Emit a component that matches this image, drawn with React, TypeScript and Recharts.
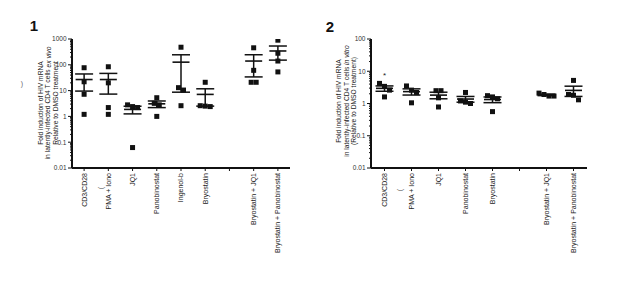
import React from "react";
import {
  ScatterChart,
  Scatter,
  XAxis,
  YAxis,
  ErrorBar,
} from "recharts";

// panel 1: ex vivo
const categoriesExVivo = [
  "CD3/CD28",
  "PMA + Iono",
  "JQ1",
  "Panobinostat",
  "Ingenol-b",
  "Bryostatin",
  "",
  "Bryostatin + JQ1",
  "Bryostatin + Panobinostat",
];
const cd3ExVivo = [77, 22, 7.2, 1.2];
const pmaExVivo = [84, 20, 2.2, 1.2];
const jq1ExVivo = [2.4, 2.2, 2.8, 0.062];
const panoExVivo = [5.3, 3.2, 2.8, 1.0];
const ingenolExVivo = [480, 13, 10.5, 2.6];
const bryoExVivo = [21, 2.4, 2.5, 2.6];
const blankExVivo: number[] = [];
const bryoJq1ExVivo = [456, 61, 21, 21];
const bryoPanoExVivo = [900, 280, 140, 53];
const ticksExVivo = [0.01, 0.1, 1, 10, 100, 1000];

// panel 2: in vitro
const categoriesInVitro = [
  "CD3/CD28",
  "PMA + Iono",
  "JQ1",
  "Panobinostat",
  "Bryostatin",
  "",
  "Bryostatin + JQ1",
  "Bryostatin + Panobinostat",
];
const cd3InVitro = [4.2, 3.4, 2.6, 1.6];
const pmaInVitro = [3.5, 2.6, 2.2, 1.05];
const jq1InVitro = [2.5, 2.5, 1.5, 0.78];
const panoInVitro = [2.2, 1.2, 1.1, 1.0];
const bryoInVitro = [1.75, 1.6, 1.4, 0.56];
const blankInVitro: number[] = [];
const bryoJq1InVitro = [2.1, 1.9, 1.7, 1.7];
const bryoPanoInVitro = [5.2, 1.9, 1.8, 1.3];
const ticksInVitro = [0.01, 0.1, 1, 10, 100];
const starInVitro = [{ category: 0, value: 8 }];

const groupsExVivo = [
  cd3ExVivo,
  pmaExVivo,
  jq1ExVivo,
  panoExVivo,
  ingenolExVivo,
  bryoExVivo,
  blankExVivo,
  bryoJq1ExVivo,
  bryoPanoExVivo,
];
const groupsInVitro = [
  cd3InVitro,
  pmaInVitro,
  jq1InVitro,
  panoInVitro,
  bryoInVitro,
  blankInVitro,
  bryoJq1InVitro,
  bryoPanoInVitro,
];

const FONT = "'Liberation Sans', Arial, sans-serif";
const MARKER = 5;

// spread points that would overlap, like a scatter dot plot does
const buildPoints = (groups: number[][], pxPerDecade: number) => {
  const out: { x: number; y: number; dx: number }[] = [];
  groups.forEach((vals, gi) => {
    const order = vals.map((v, i) => ({ v, i })).sort((a, b) => b.v - a.v);
    const clusters: { v: number; i: number }[][] = [];
    order.forEach((p) => {
      const last = clusters[clusters.length - 1];
      if (
        last &&
        (Math.log10(last[last.length - 1].v) - Math.log10(p.v)) * pxPerDecade <
          MARKER + 0.5
      ) {
        last.push(p);
      } else {
        clusters.push([p]);
      }
    });
    clusters.forEach((c) => {
      c.forEach((p, k) => {
        out.push({ x: gi, y: p.v, dx: (k - (c.length - 1) / 2) * MARKER });
      });
    });
  });
  return out;
};

const buildMeans = (groups: number[][]) =>
  groups
    .map((vals, gi) => {
      if (!vals.length) return null;
      const n = vals.length;
      const mean = vals.reduce((a, b) => a + b, 0) / n;
      const sd = Math.sqrt(
        vals.reduce((a, b) => a + (b - mean) * (b - mean), 0) / (n - 1)
      );
      return { x: gi, y: mean, err: sd / Math.sqrt(n) };
    })
    .filter(Boolean);

const logTicks = (min: number, max: number) => {
  const t: number[] = [];
  for (let d = Math.round(Math.log10(min)); d < Math.round(Math.log10(max)); d++) {
    for (let k = 1; k <= 9; k++) t.push(Number((k * Math.pow(10, d)).toPrecision(3)));
  }
  t.push(max);
  return t;
};

const isMajor = (v: number) =>
  Math.abs(Math.log10(v) - Math.round(Math.log10(v))) < 1e-6;

const YTick = (props: any) => {
  const { x, y, payload } = props;
  const major = isMajor(payload.value);
  const len = major ? 4 : 2;
  return (
    <g>
      <line x1={x - len} x2={x} y1={y} y2={y} stroke="#111" strokeWidth={1} />
      {major && (
        <text
          x={x - len - 1.5}
          y={y}
          dy={2.3}
          textAnchor="end"
          fontSize={6.5}
          fontFamily={FONT}
          fill="#333"
        >
          {String(payload.value)}
        </text>
      )}
    </g>
  );
};

const makeXTick = (cats: string[]) => (props: any) => {
  const { x, y, payload } = props;
  return (
    <text
      x={x}
      y={y}
      transform={`rotate(-90 ${x} ${y})`}
      textAnchor="end"
      dy={2.4}
      fontSize={7}
      fontFamily={FONT}
      fill="#222"
    >
      {cats[payload.value]}
    </text>
  );
};

const Square = (props: any) => {
  const { cx, cy, payload } = props;
  if (cx == null || cy == null) return null;
  return (
    <rect
      x={cx + payload.dx - MARKER / 2}
      y={cy - MARKER / 2}
      width={MARKER}
      height={MARKER}
      fill="#111"
    />
  );
};

const MeanLine = (props: any) => {
  const { cx, cy } = props;
  if (cx == null || cy == null) return null;
  return <line x1={cx - 8.5} x2={cx + 8.5} y1={cy} y2={cy} stroke="#111" strokeWidth={1.6} />;
};

const Star = (props: any) => {
  const { cx, cy } = props;
  if (cx == null || cy == null) return null;
  return (
    <text x={cx} y={cy} dy={4} textAnchor="middle" fontSize={8} fontFamily={FONT} fill="#222">
      *
    </text>
  );
};

interface PanelProps {
  cats: string[];
  groups: number[][];
  majorTicks: number[];
  pxPerDecade: number;
  margin: { top: number; right: number; bottom: number; left: number };
  stars?: { category: number; value: number }[];
}

const Panel = ({ cats, groups, majorTicks, pxPerDecade, margin, stars = [] }: PanelProps) => {
  const points = buildPoints(groups, pxPerDecade);
  const means = buildMeans(groups);
  const yMin = majorTicks[0];
  const yMax = majorTicks[majorTicks.length - 1];
  const starData = stars.map((s) => ({ x: s.category, y: s.value }));
  return (
    <ScatterChart width={300} height={282} margin={margin}>
      <XAxis
        type="number"
        dataKey="x"
        domain={[-0.5, cats.length - 0.5]}
        ticks={cats.map((_, i) => i)}
        interval={0}
        height={90}
        axisLine={{ stroke: "#111", strokeWidth: 2 }}
        tickLine={{ stroke: "#111", strokeWidth: 1 }}
        tickSize={3}
        tickMargin={2}
        tick={makeXTick(cats)}
      />
      <YAxis
        type="number"
        dataKey="y"
        scale="log"
        domain={[yMin, yMax]}
        allowDataOverflow
        ticks={logTicks(yMin, yMax)}
        interval={0}
        width={60}
        axisLine={{ stroke: "#111", strokeWidth: 2 }}
        tickLine={false}
        tickSize={0}
        tickMargin={0}
        tick={<YTick />}
      />
      <Scatter data={points} shape={<Square />} isAnimationActive={false} />
      <Scatter data={means} shape={<MeanLine />} isAnimationActive={false}>
        <ErrorBar dataKey="err" direction="y" width={9} stroke="#111" strokeWidth={1.5} />
      </Scatter>
      {starData.length > 0 && (
        <Scatter data={starData} shape={<Star />} isAnimationActive={false} />
      )}
    </ScatterChart>
  );
};

const YTitle = ({ cx, cy, lines }: { cx: number[]; cy: number; lines: React.ReactNode[] }) => (
  <>
    {lines.map((l, i) => (
      <text
        key={i}
        x={cx[i]}
        y={cy}
        transform={`rotate(-90 ${cx[i]} ${cy})`}
        textAnchor="middle"
        dominantBaseline="central"
        fontSize={6.7}
        fontFamily={FONT}
        fill="#222"
      >
        {l}
      </text>
    ))}
  </>
);

export default function App() {
  return (
    <div
      style={{
        position: "absolute",
        left: 0,
        top: 0,
        width: 617,
        height: 282,
        background: "#fff",
        overflow: "hidden",
      }}
    >
      <div style={{ position: "absolute", left: 0, top: 0 }}>
        <Panel
          cats={categoriesExVivo}
          groups={groupsExVivo}
          majorTicks={ticksExVivo}
          pxPerDecade={25.8}
          margin={{ top: 39, right: 10, bottom: 24, left: 12 }}
        />
      </div>
      <div style={{ position: "absolute", left: 300, top: 0 }}>
        <Panel
          cats={categoriesInVitro}
          groups={groupsInVitro}
          majorTicks={ticksInVitro}
          pxPerDecade={32.25}
          margin={{ top: 39, right: 13, bottom: 24, left: 11 }}
          stars={starInVitro}
        />
      </div>
      <svg
        width={617}
        height={282}
        style={{ position: "absolute", left: 0, top: 0, pointerEvents: "none" }}
      >
        <text x={34} y={31} textAnchor="middle" fontSize={15} fontWeight="bold" fontFamily={FONT} fill="#111">
          1
        </text>
        <text x={330} y={32} textAnchor="middle" fontSize={15} fontWeight="bold" fontFamily={FONT} fill="#111">
          2
        </text>
        <YTitle
          cx={[40, 47.5, 55]}
          cy={103}
          lines={[
            "Fold induction of HIV mRNA",
            <>
              in latently-infected CD4 T cells <tspan fontStyle="italic">ex vivo</tspan>
            </>,
            "Relative to DMSO treatment",
          ]}
        />
        <YTitle
          cx={[338.5, 346, 353.5]}
          cy={101}
          lines={[
            "Fold induction of HIV mRNA",
            <>
              in latently-infected CD4 T cells <tspan fontStyle="italic">in vitro</tspan>
            </>,
            "(Relative to DMSO treatment)",
          ]}
        />
        <text x={22} y={86} textAnchor="middle" fontSize={7} fontFamily={FONT} fill="#666">
          )
        </text>
        <text x={101} y={188} transform="rotate(-90 101 188)" textAnchor="middle" dy={2} fontSize={7} fontFamily={FONT} fill="#444">
          (
        </text>
        <text x={400} y={190} transform="rotate(-90 400 190)" textAnchor="middle" dy={2} fontSize={7} fontFamily={FONT} fill="#444">
          (
        </text>
      </svg>
    </div>
  );
}
